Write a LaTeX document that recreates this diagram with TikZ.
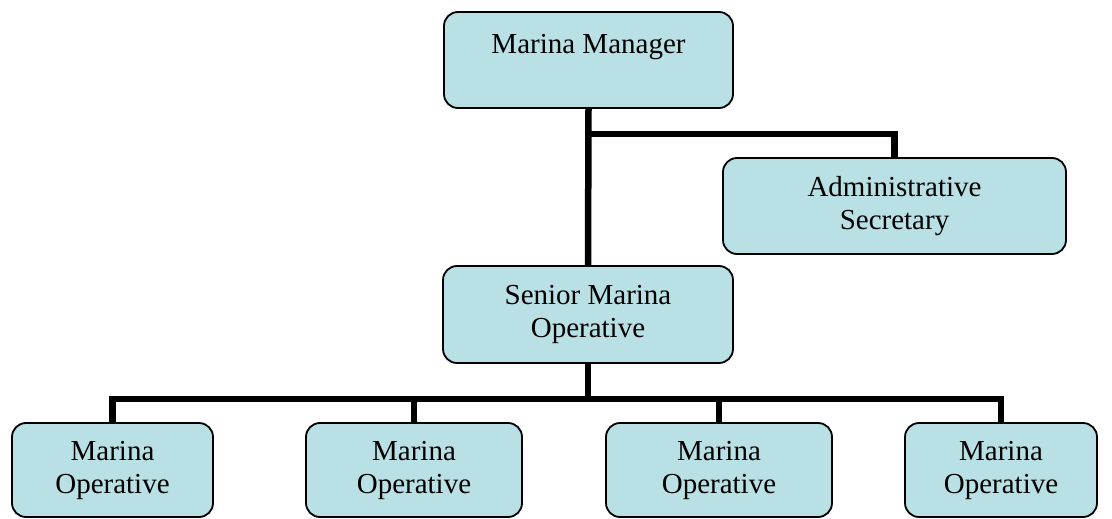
\documentclass[tikz,border=0pt]{standalone}
\usepackage{fontspec}
\setmainfont{Liberation Serif}
\definecolor{boxfill}{RGB}{185,224,228}
\begin{document}
\begin{tikzpicture}[x=1pt,y=1pt,
  orgbox/.style={draw=black, line width=1.8pt, fill=boxfill, rounded corners=14pt,
    align=center, inner sep=0pt, font=\fontsize{29}{33}\selectfont},
  link/.style={line width=6.5pt, draw=black}]
\useasboundingbox (0,0) rectangle (1112,-519);
\coordinate (j1) at (588,-134);
\coordinate (j2) at (588,-399);
\node[orgbox, minimum width=289pt, minimum height=96pt] (mgr) at (588.5,-60) {Marina Manager\\\mbox{}};
\node[orgbox, minimum width=343pt, minimum height=96pt] (adm) at (894.5,-206) {Administrative\\Secretary};
\node[orgbox, minimum width=290pt, minimum height=97pt] (sen) at (588,-314.5) {Senior Marina\\Operative};
\node[orgbox, minimum width=201pt, minimum height=94pt] (op1) at (112.5,-470) {Marina\\Operative};
\node[orgbox, minimum width=216pt, minimum height=94pt] (op2) at (414,-470) {Marina\\Operative};
\node[orgbox, minimum width=226pt, minimum height=94pt] (op3) at (719,-470) {Marina\\Operative};
\node[orgbox, minimum width=192pt, minimum height=94pt] (op4) at (1001,-470) {Marina\\Operative};
\draw[link] (mgr.south) -- (sen.north);
\draw[link] (j1) -| (adm.north);
\draw[link] (sen.south) -- (j2);
\draw[link] (op1.north) |- (j2) -| (op4.north);
\draw[link] (op2.north) -- (op2.north |- j2);
\draw[link] (op3.north) -- (op3.north |- j2);
\end{tikzpicture}
\end{document}
